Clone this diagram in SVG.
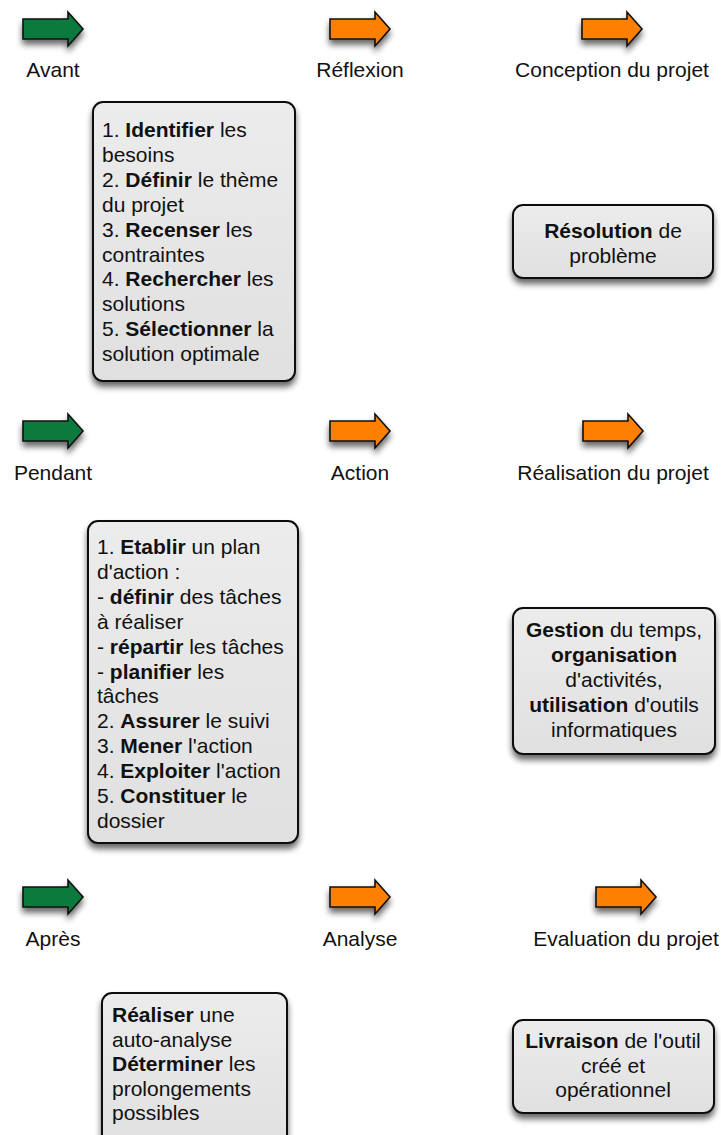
<svg xmlns="http://www.w3.org/2000/svg" width="721" height="1135" viewBox="0 0 721 1135">
<style>
text{font-family:"Liberation Sans",Arial,Helvetica,sans-serif;font-size:21px;fill:#111}
.b{font-weight:bold}
.c{text-anchor:middle}
.box{fill:url(#boxg);stroke:#111;stroke-width:2}
.green{fill:#0b7a3e;stroke:#111;stroke-width:1.6}
.orange{fill:#ff8000;stroke:#111;stroke-width:1.6}
</style>
<defs>
<linearGradient id="boxg" x1="0" y1="0" x2="0" y2="1">
<stop offset="0" stop-color="#ececec"/>
<stop offset="1" stop-color="#e0e0e0"/>
</linearGradient>
<filter id="sh" x="-30%" y="-30%" width="160%" height="170%">
<feGaussianBlur in="SourceAlpha" stdDeviation="3"/>
<feOffset dx="0" dy="5" result="o"/>
<feComponentTransfer><feFuncA type="linear" slope="0.6"/></feComponentTransfer>
<feMerge><feMergeNode/><feMergeNode in="SourceGraphic"/></feMerge>
</filter>
<path id="arr" d="M0,7 H45 V0 L60,17 L45,34 V27 H0 Z"/>
</defs>

<g id="row1">
<g id="avant"><use href="#arr" x="23" y="12" class="green" filter="url(#sh)"/><text x="53" y="77" class="c">Avant</text></g>
<g id="reflexion"><use href="#arr" x="330" y="12" class="orange" filter="url(#sh)"/><text x="360" y="77" class="c">Réflexion</text></g>
<g id="conception"><use href="#arr" x="582" y="12" class="orange" filter="url(#sh)"/><text x="612" y="77" class="c">Conception du projet</text></g>
</g>

<g id="box-avant">
<rect x="93" y="102" width="202" height="279" rx="10" class="box" filter="url(#sh)"/>
<text x="102" y="137">1. <tspan class="b">Identifier</tspan> les</text>
<text x="102" y="161.9">besoins</text>
<text x="102" y="186.8">2. <tspan class="b">Définir</tspan> le thème</text>
<text x="102" y="211.7">du projet</text>
<text x="102" y="236.6">3. <tspan class="b">Recenser</tspan> les</text>
<text x="102" y="261.5">contraintes</text>
<text x="102" y="286.4">4. <tspan class="b">Rechercher</tspan> les</text>
<text x="102" y="311.3">solutions</text>
<text x="102" y="336.2">5. <tspan class="b">Sélectionner</tspan> la</text>
<text x="102" y="361.1">solution optimale</text>
</g>

<g id="box-resolution">
<rect x="513" y="205" width="200" height="73" rx="10" class="box" filter="url(#sh)"/>
<text x="613" y="238" class="c"><tspan class="b">Résolution</tspan> de</text>
<text x="613" y="263" class="c">problème</text>
</g>

<g id="row2">
<g id="pendant"><use href="#arr" x="23" y="414" class="green" filter="url(#sh)"/><text x="53" y="480" class="c">Pendant</text></g>
<g id="action"><use href="#arr" x="330" y="414" class="orange" filter="url(#sh)"/><text x="360" y="480" class="c">Action</text></g>
<g id="realisation"><use href="#arr" x="583" y="414" class="orange" filter="url(#sh)"/><text x="613" y="480" class="c">Réalisation du projet</text></g>
</g>

<g id="box-pendant">
<rect x="88" y="521" width="210" height="322" rx="10" class="box" filter="url(#sh)"/>
<text x="97" y="554">1. <tspan class="b">Etablir</tspan> un plan</text>
<text x="97" y="578.9">d'action :</text>
<text x="97" y="603.8">- <tspan class="b">définir</tspan> des tâches</text>
<text x="97" y="628.7">à réaliser</text>
<text x="97" y="653.6">- <tspan class="b">répartir</tspan> les tâches</text>
<text x="97" y="678.5">- <tspan class="b">planifier</tspan> les</text>
<text x="97" y="703.4">tâches</text>
<text x="97" y="728.3">2. <tspan class="b">Assurer</tspan> le suivi</text>
<text x="97" y="753.2">3. <tspan class="b">Mener</tspan> l'action</text>
<text x="97" y="778.1">4. <tspan class="b">Exploiter</tspan> l'action</text>
<text x="97" y="803">5. <tspan class="b">Constituer</tspan> le</text>
<text x="97" y="827.9">dossier</text>
</g>

<g id="box-gestion">
<rect x="513" y="608" width="202" height="146" rx="10" class="box" filter="url(#sh)"/>
<text x="614" y="637" class="c"><tspan class="b">Gestion</tspan> du temps,</text>
<text x="614" y="662" class="c"><tspan class="b">organisation</tspan></text>
<text x="614" y="687" class="c">d'activités,</text>
<text x="614" y="712" class="c"><tspan class="b">utilisation</tspan> d'outils</text>
<text x="614" y="737" class="c">informatiques</text>
</g>

<g id="row3">
<g id="apres"><use href="#arr" x="23" y="880" class="green" filter="url(#sh)"/><text x="53" y="946" class="c">Après</text></g>
<g id="analyse"><use href="#arr" x="330" y="880" class="orange" filter="url(#sh)"/><text x="360" y="946" class="c">Analyse</text></g>
<g id="evaluation"><use href="#arr" x="596" y="880" class="orange" filter="url(#sh)"/><text x="626" y="946" class="c">Evaluation du projet</text></g>
</g>

<g id="box-apres">
<rect x="102" y="993" width="185" height="160" rx="10" class="box" filter="url(#sh)"/>
<text x="112" y="1022"><tspan class="b">Réaliser</tspan> une</text>
<text x="112" y="1046.5">auto-analyse</text>
<text x="112" y="1071"><tspan class="b">Déterminer</tspan> les</text>
<text x="112" y="1095.5">prolongements</text>
<text x="112" y="1120">possibles</text>
</g>

<g id="box-livraison">
<rect x="513" y="1020" width="201" height="93" rx="10" class="box" filter="url(#sh)"/>
<text x="613" y="1048" class="c"><tspan class="b">Livraison</tspan> de l'outil</text>
<text x="613" y="1072.5" class="c">créé et</text>
<text x="613" y="1097" class="c">opérationnel</text>
</g>

<g id="connectors"/>
</svg>
